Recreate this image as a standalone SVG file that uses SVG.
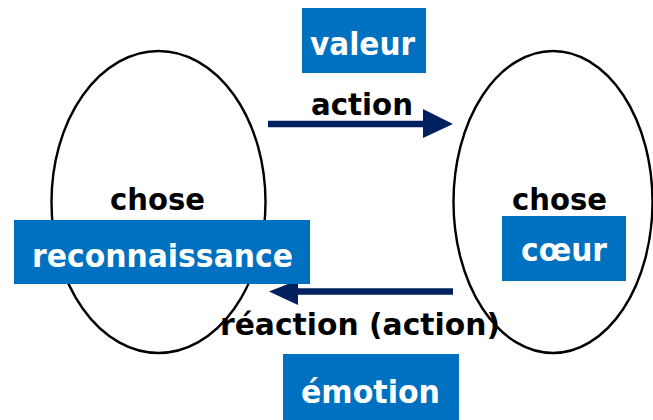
<svg xmlns="http://www.w3.org/2000/svg" width="653" height="420" viewBox="0 0 653 420">
<style>
.ell{fill:none;stroke:#000;stroke-width:2.4}
.box{fill:#0070C0}
.lbl{font-family:"DejaVu Sans",Verdana,sans-serif;font-weight:bold;font-size:31px;fill:#000;text-anchor:middle}
.wht{font-family:"DejaVu Sans",Verdana,sans-serif;font-weight:bold;font-size:31.5px;fill:#fff;text-anchor:middle}
.arr{stroke:#002060;stroke-width:6.5;fill:none}
.head{fill:#002060}
</style>
<rect width="653" height="420" fill="#fff"/>
<g id="thing-left">
<ellipse class="ell" cx="158.5" cy="202" rx="107" ry="151"/>
<text class="lbl" x="157.5" y="210" textLength="95" lengthAdjust="spacingAndGlyphs">chose</text>
</g>
<g id="thing-right">
<ellipse class="ell" cx="553" cy="202" rx="99.5" ry="151"/>
<text class="lbl" x="559.5" y="210" textLength="95" lengthAdjust="spacingAndGlyphs">chose</text>
</g>
<g id="connectors">
<line class="arr" x1="268" y1="124" x2="425" y2="124"/>
<polygon class="head" points="423,109 453,124 423,138"/>
<text class="lbl" x="362" y="115" textLength="102" lengthAdjust="spacingAndGlyphs">action</text>
<line class="arr" x1="453" y1="291.5" x2="296" y2="291.5"/>
<polygon class="head" points="298,280 269,291.5 298,305"/>
<text class="lbl" x="360" y="335" textLength="280" lengthAdjust="spacingAndGlyphs">réaction (action)</text>
</g>
<g id="valeur">
<rect class="box" x="302" y="8" width="124" height="65"/>
<text class="wht" x="362.5" y="55" textLength="105" lengthAdjust="spacingAndGlyphs">valeur</text>
</g>
<g id="reconnaissance">
<rect class="box" x="14" y="220" width="296" height="64"/>
<text class="wht" x="162.5" y="267" textLength="261" lengthAdjust="spacingAndGlyphs">reconnaissance</text>
</g>
<g id="coeur">
<rect class="box" x="502" y="216" width="124" height="65"/>
<text class="wht" x="564" y="261" textLength="86" lengthAdjust="spacingAndGlyphs">cœur</text>
</g>
<g id="emotion">
<rect class="box" x="283" y="354" width="176" height="66"/>
<text class="wht" x="370.5" y="403" textLength="139" lengthAdjust="spacingAndGlyphs">émotion</text>
</g>
</svg>
